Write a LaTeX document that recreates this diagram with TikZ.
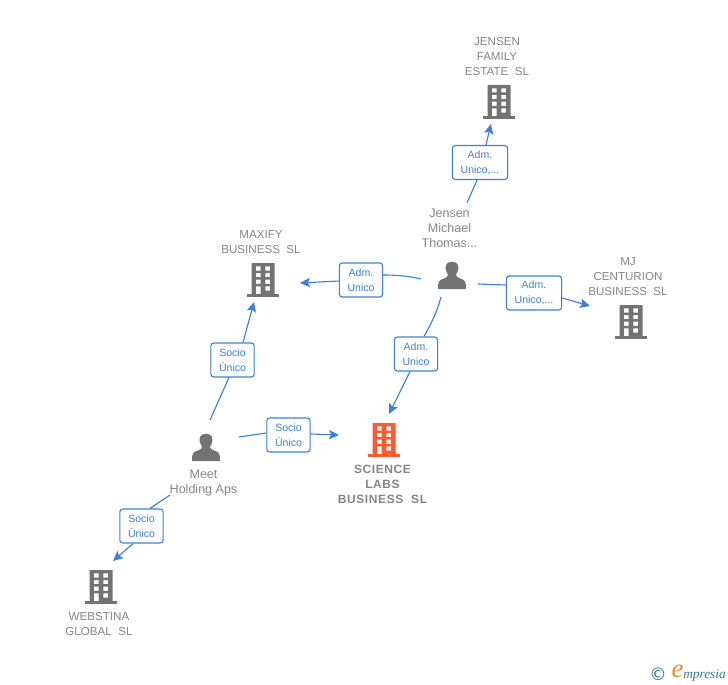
\documentclass[tikz,border=0pt]{standalone}
\usepackage{fontspec}
\setmainfont{Liberation Sans}
\newfontfamily\logofont{Liberation Serif}
\newfontfamily\symfont{DejaVu Sans}
\newfontfamily\spacedbold[LetterSpace=5,BoldFont={Liberation Sans Bold}]{Liberation Sans}
\usetikzlibrary{arrows.meta}
\definecolor{linkblue}{HTML}{3B80E0}
\definecolor{labelgray}{HTML}{858585}
\definecolor{icongray}{HTML}{737373}
\definecolor{iconorange}{HTML}{FF5B2E}
\definecolor{logoteal}{HTML}{2F7A94}
\definecolor{logoorange}{HTML}{F5851F}
\tikzset{
  x=0.75pt,y=-0.75pt,
  conn/.style={draw=linkblue,line width=0.85pt},
  arrowconn/.style={conn,-{Stealth[length=7.5pt,width=7pt,inset=1.6pt]}},
  relbox/.style={draw=linkblue,line width=0.85pt,rounded corners=2.2pt,fill=white,align=center,
    text=linkblue,font=\fontsize{7.9pt}{11.2pt}\selectfont,inner sep=0pt,minimum height=25.5pt},
  wide/.style={minimum width=41.5pt},
  narrow/.style={minimum width=32.5pt},
  namelabel/.style={align=center,text=labelgray,font=\fontsize{8.7pt}{11.25pt}\selectfont,inner sep=0pt},
  personlabel/.style={namelabel,font=\fontsize{9.4pt}{11.25pt}\selectfont},
  mainlabel/.style={namelabel,font=\spacedbold\fontsize{9pt}{11.25pt}\selectfont\bfseries},
  building/.pic={
    \fill[pic actions,even odd rule]
      (-11.5,-17) rectangle (11.5,15)
      (-7.2,-13.7) rectangle (-2.4,-9.5) (2.4,-13.7) rectangle (7.2,-9.5)
      (-7.2,-7) rectangle (-2.4,-2.9) (2.4,-7) rectangle (7.2,-2.9)
      (-7.2,-0.4) rectangle (-2.4,3.8) (2.4,-0.4) rectangle (7.2,3.8)
      (-7.2,6.3) rectangle (-2.4,15) (2.4,6.3) rectangle (7.2,10.5);
    \fill[pic actions] (-16,14.2) rectangle (16,16.8);
  },
  person/.pic={
    \fill[pic actions] (0,-14.3) .. controls (-6.2,-14.3) and (-7.2,-9) .. (-6.1,-5.5)
      .. controls (-5.4,-3.5) and (-4.4,-2.3) .. (-4,-1.6)
      .. controls (-4,0.5) and (-5,1.4) .. (-8,2.5)
      .. controls (-12,3.8) and (-13.8,5) .. (-13.8,8) -- (-13.8,13) -- (13.8,13) -- (13.8,8)
      .. controls (13.8,5) and (12,3.8) .. (8,2.5)
      .. controls (5,1.4) and (4,0.5) .. (4,-1.6)
      .. controls (4.4,-2.3) and (5.4,-3.5) .. (6.1,-5.5)
      .. controls (7.2,-9) and (6.2,-14.3) .. (0,-14.3) -- cycle;
  }
}
\begin{document}
\begin{tikzpicture}
\useasboundingbox (0,0) rectangle (728,685);
% icons
\pic[fill=icongray] at (499,102) {building};
\pic[fill=icongray] at (263,280) {building};
\pic[fill=icongray] at (631,322) {building};
\pic[fill=iconorange] at (384,440) {building};
\pic[fill=icongray] at (101,587) {building};
\pic[fill=icongray] at (452,276) {person};
\pic[fill=icongray] at (206,448) {person};
% labels
\node[namelabel] (jensenfam) at (497,56.5) {JENSEN\\FAMILY\\ESTATE\ \ SL};
\node[namelabel] (maxify) at (261,242.5) {MAXIFY\\BUSINESS\ \ SL};
\node[namelabel] (mj) at (628,276.5) {MJ\\CENTURION\\BUSINESS\ \ SL};
\node[mainlabel] (science) at (382.5,484) {SCIENCE\\LABS\\BUSINESS\ \ SL};
\node[namelabel] (webstina) at (99,624) {WEBSTINA\\GLOBAL\ \ SL};
\node[personlabel] (jmt) at (449.5,228) {Jensen\\Michael\\Thomas...};
\node[personlabel] (meet) at (203.5,482.5) {Meet\\Holding Aps};
% relation boxes
\node[relbox,wide] (b1) at (480,162.5) {Adm.\\Unico,...};
\node[relbox,narrow] (b2) at (361,280) {Adm.\\Unico};
\node[relbox,wide] (b3) at (534,293) {Adm.\\Unico,...};
\node[relbox,narrow] (b4) at (416,354) {Adm.\\Unico};
\node[relbox,narrow] (b5) at (232.5,360) {Socio\\Único};
\node[relbox,narrow] (b6) at (288.5,435) {Socio\\Único};
\node[relbox,narrow] (b7) at (141.5,526) {Socio\\Único};
% free connector ends
\coordinate (s1) at (467,203); \coordinate (e1) at (491,124);
\coordinate (s2) at (421,279); \coordinate (e2) at (300,283);
\coordinate (s3) at (478,284); \coordinate (e3) at (590,306);
\coordinate (s4) at (441,297); \coordinate (e4) at (389,414);
\coordinate (s5) at (210,420); \coordinate (e5) at (254,302);
\coordinate (s6) at (239,437); \coordinate (e6) at (339,435);
\coordinate (s7) at (170,495); \coordinate (e7) at (113,561);
% connectors
\draw[conn] (s1) -- (b1.south -| 477,0);
\draw[arrowconn] (b1.north -| 486,0) -- (e1);
\draw[conn] (s2) .. controls (408,276) and (396,275) .. (b2.east |- 0,275);
\draw[arrowconn] (b2.west |- 0,281) -- (e2);
\draw[conn] (s3) -- (b3.west |- 0,285);
\draw[arrowconn] (b3.east |- 0,298) -- (e3);
\draw[conn] (s4) .. controls (437,312) and (431,324) .. (b4.north -| 424,0);
\draw[arrowconn] (b4.south -| 410,0) -- (e4);
\draw[conn] (s5) -- (b5.south -| 229,0);
\draw[arrowconn] (b5.north -| 243,0) -- (e5);
\draw[conn] (s6) -- (b6.west |- 0,433);
\draw[arrowconn] (b6.east |- 0,434) -- (e6);
\draw[conn] (s7) -- (b7.north -| 150,0);
\draw[arrowconn] (b7.south -| 133,0) -- (e7);
% logo
\node[inner sep=0pt,text=logoteal,font=\symfont\fontsize{13pt}{13pt}\selectfont] (copy) at (658,674) {©};
\node[inner sep=0pt,text=logoorange,font=\logofont\itshape\fontsize{20pt}{20pt}\selectfont] (logoe) at (677.5,671.5) {e};
\node[inner sep=0pt,anchor=west,text=logoteal,font=\logofont\itshape\fontsize{10pt}{10pt}\selectfont] (logotext) at (683,675) {mpresia};
\end{tikzpicture}
\end{document}
